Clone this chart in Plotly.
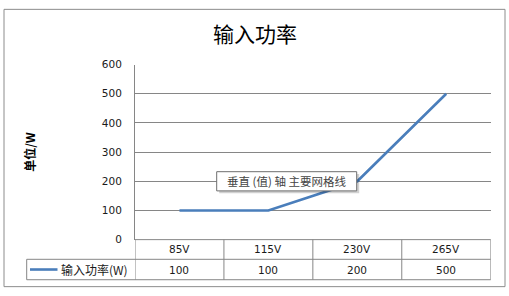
import plotly.graph_objects as go

# Data
categories = ["85V", "115V", "230V", "265V"]
power = [100, 100, 200, 500]
series_name = "输入功率(W)"
y_ticks = [0, 100, 200, 300, 400, 500, 600]
title_text = "输入功率"
y_title = "单位/W"
tooltip_text = "垂直 (值) 轴 主要网格线"

W, H = 509, 296


def px(x):
    return x / W


def py(y):
    return 1 - y / H


# Plot-area and table geometry (pixels)
PL, PR = 135, 490.7
PT, PB = 61, 243.5
ROW1_B = 264.0
ROW2_B = 285.3
LEG_L = 26.7

GRID = "#868686"
LINE_BLUE = "#4a7ebb"
TXT = "#1a1a1a"
CJK = "Noto Sans CJK SC"
LAT = "DejaVu Sans"

fig = go.Figure()
fig.add_trace(go.Scatter(
    x=list(range(len(categories))), y=power, mode="lines",
    line=dict(color=LINE_BLUE, width=2.6), name=series_name,
    showlegend=False, hoverinfo="skip",
))

shapes = []
annotations = []

# Outer chart border
shapes.append(dict(type="rect", xref="paper", yref="paper",
                   x0=px(4), x1=px(505), y0=py(292.5), y1=py(3.5),
                   line=dict(color="#8c8c8c", width=1), fillcolor="rgba(0,0,0,0)",
                   layer="below"))

# Data table grid
def hline(y, x0, x1):
    shapes.append(dict(type="line", xref="paper", yref="paper",
                       x0=px(x0), x1=px(x1), y0=py(y), y1=py(y),
                       line=dict(color=GRID, width=1), layer="below"))


def vline_x(xv, y0, y1):
    shapes.append(dict(type="line", xref="x", yref="paper",
                       x0=xv, x1=xv, y0=py(y0), y1=py(y1),
                       line=dict(color=GRID, width=1), layer="below"))


hline(PB, PL, PR)
hline(ROW1_B, LEG_L, PR)
hline(ROW2_B, LEG_L, PR)
for i in range(len(categories) + 1):
    vline_x(i - 0.5, PB, ROW2_B)
shapes.append(dict(type="line", xref="paper", yref="paper",
                   x0=px(LEG_L), x1=px(LEG_L), y0=py(ROW1_B), y1=py(ROW2_B),
                   line=dict(color=GRID, width=1), layer="below"))

# Legend key inside the table
row2_mid = (ROW1_B + ROW2_B) / 2
shapes.append(dict(type="line", xref="paper", yref="paper",
                   x0=px(30), x1=px(57.5), y0=py(row2_mid), y1=py(row2_mid),
                   line=dict(color=LINE_BLUE, width=2.6)))
annotations.append(dict(text=series_name, xref="paper", yref="paper",
                        x=px(59), y=py(row2_mid), xanchor="left", yanchor="middle",
                        showarrow=False, font=dict(family=CJK, size=12, color=TXT)))

row1_mid = (PB + ROW1_B) / 2
for i, (c, v) in enumerate(zip(categories, power)):
    annotations.append(dict(text=c, xref="x", yref="paper", x=i, y=py(row1_mid),
                            xanchor="center", yanchor="middle", showarrow=False,
                            font=dict(family=LAT, size=10.5, color=TXT)))
    annotations.append(dict(text=str(v), xref="x", yref="paper", x=i, y=py(row2_mid),
                            xanchor="center", yanchor="middle", showarrow=False,
                            font=dict(family=LAT, size=10.5, color=TXT)))

# Title and axis title
annotations.append(dict(text=title_text, xref="paper", yref="paper",
                        x=px(255), y=py(28), xanchor="center", yanchor="middle",
                        showarrow=False, font=dict(family=CJK, size=21, color="#000")))
annotations.append(dict(text="<b>" + y_title + "</b>", xref="paper", yref="paper",
                        x=px(30), y=py(152), xanchor="center", yanchor="middle",
                        textangle=-90, showarrow=False,
                        font=dict(family=CJK, size=12, color="#000")))

# Hover-style callout box with shadow
TX0, TX1, TY0, TY1 = 216.7, 356.7, 172.7, 192.7
shapes.append(dict(type="rect", xref="paper", yref="paper",
                   x0=px(TX0 + 2.5), x1=px(TX1 + 2.5), y0=py(TY1 + 2.5), y1=py(TY0 + 2.5),
                   line=dict(width=0), fillcolor="rgba(0,0,0,0.18)", layer="above"))
shapes.append(dict(type="rect", xref="paper", yref="paper",
                   x0=px(TX0), x1=px(TX1), y0=py(TY1), y1=py(TY0),
                   line=dict(color="#6e6e6e", width=1), fillcolor="#ffffff", layer="above"))
annotations.append(dict(text=tooltip_text, xref="paper", yref="paper",
                        x=px((TX0 + TX1) / 2), y=py((TY0 + TY1) / 2),
                        xanchor="center", yanchor="middle", showarrow=False,
                        font=dict(family=CJK, size=11.5, color="#444")))

fig.update_layout(
    width=W, height=H,
    margin=dict(l=0, r=0, t=0, b=0),
    paper_bgcolor="white", plot_bgcolor="white",
    shapes=shapes, annotations=annotations,
    xaxis=dict(domain=[px(PL), px(PR)], range=[-0.5, len(categories) - 0.5],
               showticklabels=False, showgrid=False, zeroline=False, showline=False,
               fixedrange=True),
    yaxis=dict(domain=[py(PB), py(PT)], range=[0, 600], tickvals=y_ticks,
               ticktext=[str(t) for t in y_ticks],
               showgrid=True, gridcolor=GRID, gridwidth=1, zeroline=False,
               showline=True, linecolor=GRID, linewidth=1,
               ticks="", ticklabelstandoff=10,
               tickfont=dict(family=LAT, size=10.5, color=TXT), fixedrange=True),
    showlegend=False,
)

fig.write_html("out.html")
